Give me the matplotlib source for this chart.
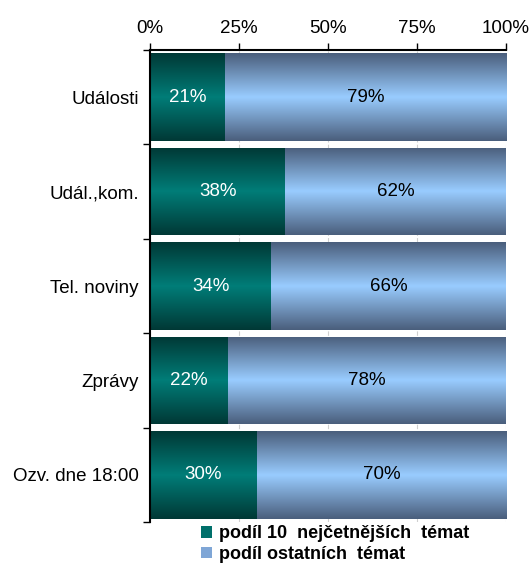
import numpy as np
import matplotlib
matplotlib.use("Agg")
import matplotlib.pyplot as plt
from matplotlib.colors import LinearSegmentedColormap
from matplotlib.patches import Patch

categories = ["Události", "Udál.,kom.", "Tel. noviny", "Zprávy", "Ozv. dne 18:00"]
top10 = [21, 38, 34, 22, 30]
other = [79, 62, 66, 78, 70]
series_names = ["podíl 10  nejčetnějších  témat", "podíl ostatních  témat"]
xticks = [0, 25, 50, 75, 100]

plt.rcParams["font.family"] = ["Liberation Sans", "DejaVu Sans"]

fig = plt.figure(figsize=(5.31, 5.63), dpi=100)
ax = fig.add_axes([0.2825, 0.0728, 0.6705, 0.8384])

teal = LinearSegmentedColormap.from_list("teal", ["#003835", "#007d78", "#003835"])
blue = LinearSegmentedColormap.from_list("blue", ["#4a5e7c", "#99ccff", "#4a5e7c"])

y = np.arange(len(categories))
h = 0.93
grad = np.linspace(0, 1, 256).reshape(-1, 1)

for vals, left, cmap in [(top10, [0] * len(top10), teal), (other, top10, blue)]:
    bars = ax.barh(y, vals, left=left, height=h, color="none", edgecolor="none")
    for b in bars:
        x0, y0 = b.get_x(), b.get_y()
        im = ax.imshow(grad, cmap=cmap, aspect="auto",
                       extent=[x0, x0 + b.get_width(), y0 + b.get_height(), y0],
                       interpolation="bicubic", zorder=2)
        im.set_clip_path(b)

for i in range(len(categories)):
    ax.text(top10[i] / 2, y[i], f"{top10[i]}%", ha="center", va="center",
            color="white", fontsize=13.5, zorder=3)
    ax.text(top10[i] + other[i] / 2, y[i], f"{other[i]}%", ha="center", va="center",
            color="black", fontsize=13.5, zorder=3)

ax.set_xlim(0, 100)
ax.set_ylim(len(categories) - 0.5, -0.5)
ax.xaxis.tick_top()
ax.set_xticks(xticks)
ax.set_xticklabels([f"{t}%" for t in xticks], fontsize=13.5)
ax.tick_params(axis="x", direction="out", length=5, width=1, pad=4)
ax.set_yticks(y)
ax.set_yticklabels(categories, fontsize=13.5)
ax.set_yticks(np.arange(-0.5, len(categories)), minor=True)
ax.tick_params(axis="y", which="major", length=0, pad=8)
ax.tick_params(axis="y", which="minor", direction="out", length=5, width=1)
ax.grid(axis="x", color="#d0d0d0", linestyle=(0, (4, 2)), linewidth=0.8, zorder=0)
ax.set_axisbelow(True)

for s in ["right", "bottom"]:
    ax.spines[s].set_visible(False)
ax.spines["top"].set_linewidth(1.5)
ax.spines["left"].set_linewidth(1.5)

handles = [Patch(facecolor="#00706b", edgecolor="none"),
           Patch(facecolor="#7fa6d6", edgecolor="none")]
fig.legend(handles, series_names, loc="upper left", bbox_to_anchor=(0.378, 0.067),
           frameon=False, handlelength=0.6, handleheight=0.6, handletextpad=0.4,
           labelspacing=0.2, borderpad=0, borderaxespad=0,
           prop={"weight": "bold", "size": 13})

fig.savefig("out.png", dpi=100)
